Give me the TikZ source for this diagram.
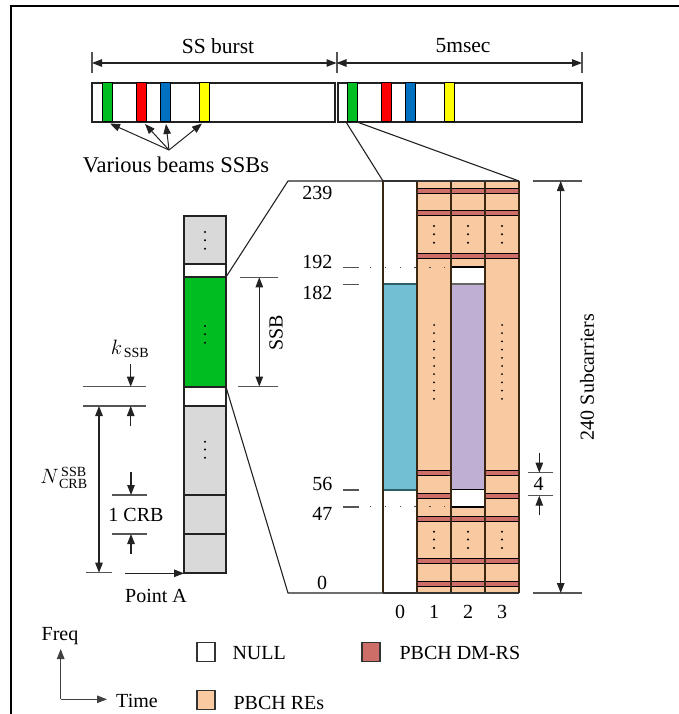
\documentclass[tikz,border=0pt]{standalone}
\usepackage{fontspec}
\setmainfont{Liberation Serif}
\usetikzlibrary{arrows.meta}
\definecolor{ssbgreen}{HTML}{00BE22}
\definecolor{ssbred}{HTML}{FF0000}
\definecolor{ssbblue}{HTML}{0070C0}
\definecolor{ssbyellow}{HTML}{FFFF00}
\definecolor{cellgray}{HTML}{D9D9D9}
\definecolor{peach}{HTML}{F9C9A2}
\definecolor{dmrs}{HTML}{CD6E68}
\definecolor{pss}{HTML}{70BFD2}
\definecolor{pssline}{HTML}{2E5E68}
\definecolor{sss}{HTML}{BFB0D3}
\definecolor{ink}{HTML}{222222}
\definecolor{tickgray}{HTML}{555555}
\begin{document}
\begin{tikzpicture}[x=1pt,y=-1pt,
  font=\fontsize{20}{22}\selectfont,
  line width=1.1pt, draw=ink,
  tri/.style={-{Triangle[length=10pt,width=7.5pt]}},
  dbl/.style={{Triangle[length=10pt,width=7.5pt]}-{Triangle[length=10pt,width=7.5pt]}},
  tickline/.style={draw=tickgray, line width=1.3pt},
  lbl/.style={inner sep=0pt, anchor=center},
  big/.style={font=\fontsize{21.5}{24}\selectfont},
  cell/.style={draw=ink, line width=1.1pt},
  bar/.style={draw=black, line width=1pt},
  stripe/.style={fill=dmrs, draw=black, line width=0.9pt},
  colline/.style={draw=black!70!brown, line width=1.3pt},
  dotv/.style={fill=black, circle, inner sep=0pt, minimum size=2.2pt},
  hdots/.style={draw=black!70, line width=1.3pt, dash pattern=on 1.3pt off 13.5pt},
  legbox/.style={draw=black!80, line width=1.2pt, minimum width=18pt, minimum height=19pt, inner sep=0pt}
]
\useasboundingbox (0,0) rectangle (679,714);
% frame
\coordinate (fbl) at (11,714); \coordinate (ftl) at (11,6); \coordinate (ftr) at (679,6);
\draw[black, line width=2.3pt] (fbl) -- (ftl) -- (ftr);

% ---------- top burst bar ----------
\draw[cell, fill=white] (92,83) rectangle (335,122);
\draw[cell, fill=white] (338,83) rectangle (582,122);
\foreach \a/\b/\c/\n in {102/112/ssbgreen/g1,136/146/ssbred/r1,160/170/ssbblue/b1,199/209/ssbyellow/y1,
  347/357/ssbgreen/g2,381/391/ssbred/r2,405/415/ssbblue/b2,444/454/ssbyellow/y2}{
  \draw[bar, fill=\c] (\a,83) rectangle (\b,122);
  \coordinate (\n) at ({(\a+\b)/2},123);
}
% dimension arrows top
\coordinate (t0a) at (92,52); \coordinate (t0b) at (92,73);
\coordinate (t1a) at (337,52); \coordinate (t1b) at (337,73);
\coordinate (t2a) at (582,52); \coordinate (t2b) at (582,73);
\draw[tickline] (t0a) -- (t0b); \draw[tickline] (t1a) -- (t1b); \draw[tickline] (t2a) -- (t2b);
\coordinate (d0) at (92,63); \coordinate (d1) at (336.5,63); \coordinate (d2) at (582,63);
\draw[dbl] (d0) -- (d1);
\draw[dbl] (d1) -- (d2);
\node[lbl, big] (ssburst) at (218,46) {SS burst};
\node[lbl, big] (fivems) at (463,46) {5msec};

% various beams
\node[lbl, font=\fontsize{22.5}{24}\selectfont] (various) at (176,165) {Various beams SSBs};
\coordinate (vb) at (169,150);
\coordinate (vg) at (110,123.5); \coordinate (vr) at (145,124); \coordinate (vbl) at (166,124); \coordinate (vy) at (202,123.5);
\foreach \t in {vg,vr,vbl,vy}{ \draw[tri, line width=1pt] (vb) -- (\t); }

% ---------- right grid ----------
\def\gt{181} \def\gb{593}
\fill[white] (383,\gt) rectangle (417,\gb);
\fill[peach] (417,\gt) rectangle (519,\gb);
\draw[fill=pss, draw=pssline, line width=1.2pt] (383,284) rectangle (417,490);
\draw[fill=white, draw=black, line width=1.2pt] (451,267) rectangle (485,284);
\draw[fill=sss, draw=black!60, line width=1.1pt] (451,284) rectangle (485,489.5);
\draw[fill=white, draw=black, line width=1.2pt] (451,489.5) rectangle (485,507);
% DM-RS stripes
\foreach \y in {190.5,213,256,519,561,584}{
  \foreach \x in {417,451,485}{ \draw[stripe] (\x,\y-2.5) rectangle (\x+34,\y+2.5); }
}
\foreach \y in {473,495.7}{
  \foreach \x in {417,485}{ \draw[stripe] (\x,\y-2.5) rectangle (\x+34,\y+2.5); }
}
% column lines
\foreach \x in {383,417,451,485,519}{ \draw[colline] (\x,\gt) -- (\x,\gb); }
\coordinate (gtl) at (383,\gt); \coordinate (gtr) at (519,\gt);
\coordinate (gbl) at (383,\gb); \coordinate (gbr) at (519,\gb);
\draw[black!80, line width=1.3pt] (gtl) -- (gtr);
\draw[black!80, line width=1.3pt] (gbl) -- (gbr);
% dots
\foreach \x in {434,468,502}{
  \foreach \y in {226,234.3,242.7,531.7,539.5,548}{ \node[dotv] at (\x,\y) {}; }
}
\foreach \x in {434,502}{
  \foreach \i in {0,...,9}{ \node[dotv, minimum size=2pt] at (\x,325+\i*8.2) {}; }
}
% column numbers
\node[lbl] (c0) at (400,612) {0};
\node[lbl] (c1) at (434,612) {1};
\node[lbl] (c2) at (468,612) {2};
\node[lbl] (c3) at (502,612) {3};

% subcarrier index labels
\node[lbl, anchor=east] (n239) at (333,193) {239};
\node[lbl, anchor=east] (n192) at (333,262) {192};
\node[lbl, anchor=east] (n182) at (333,293) {182};
\node[lbl, anchor=east] (n56) at (333,484) {56};
\node[lbl, anchor=east] (n47) at (333,514) {47};
\node[lbl] (n0) at (322,583) {0};
\foreach \y/\n in {267.3/k192,284.3/k182,490/k56,507/k47}{
  \coordinate (\n a) at (343,\y); \coordinate (\n b) at (359,\y);
  \draw[tickline] (\n a) -- (\n b);
}
\coordinate (dot192a) at (370,267.3); \coordinate (dot192b) at (451,267.3);
\coordinate (dot47a) at (370,506.7); \coordinate (dot47b) at (451,506.7);
\draw[hdots] (dot192a) -- (dot192b);
\draw[hdots] (dot47a) -- (dot47b);

% zoom lines from second green bar
\coordinate (zg1) at (346,122); \coordinate (zg2) at (357,122);
\draw[line width=1.1pt] (zg1) -- (gtl);
\draw[line width=1.1pt] (zg2) -- (gtr);

% ---------- left column ----------
\def\lx{184} \def\rx{226}
\draw[cell, fill=cellgray] (\lx,216) rectangle (\rx,264);
\draw[cell, fill=white] (\lx,264) rectangle (\rx,277);
\draw[cell, fill=ssbgreen] (\lx,277) rectangle (\rx,387);
\draw[cell, fill=white] (\lx,387) rectangle (\rx,406);
\draw[cell, fill=cellgray] (\lx,406) rectangle (\rx,495);
\draw[cell, fill=cellgray] (\lx,495) rectangle (\rx,534);
\draw[cell, fill=cellgray] (\lx,534) rectangle (\rx,573);
\foreach \y in {232,240.3,248.7,326,334.3,342.7,441.7,449.5,457.7}{ \node[dotv] at (205,\y) {}; }

% expansion lines to grid
\coordinate (lgt) at (\rx,277); \coordinate (lgb) at (\rx,387);
\coordinate (e1) at (288,181); \coordinate (e2) at (288,593);
\draw[line width=1.1pt] (lgt) -- (e1) -- (gtl);
\draw[line width=1.1pt] (lgb) -- (e2) -- (gbl);

% SSB dimension
\coordinate (s1a) at (240,277.3); \coordinate (s1b) at (278,277.3);
\coordinate (s2a) at (238,386.5); \coordinate (s2b) at (278,386.5);
\draw[tickline] (s1a) -- (s1b); \draw[tickline] (s2a) -- (s2b);
\coordinate (sa) at (259.3,277.3); \coordinate (sb) at (259.3,386.5);
\draw[dbl] (sa) -- (sb);
\node[lbl, rotate=90] (ssblbl) at (276,333) {SSB};

% k_SSB
\coordinate (k1a) at (83,386.7); \coordinate (k1b) at (146,386.7);
\coordinate (k2a) at (83,406); \coordinate (k2b) at (146,406);
\draw[tickline] (k1a) -- (k1b); \draw[tickline] (k2a) -- (k2b);
\coordinate (ka0) at (130.7,364) ; \coordinate (ka1) at (130.7,386.7);
\coordinate (kb0) at (130.7,426) ; \coordinate (kb1) at (130.7,406);
\draw[tri] (ka0) -- (ka1); \draw[tri] (kb0) -- (kb1);
\node[lbl] (klbl) at (130,349) {$k_{\,\mathrm{SSB}}$};

% N_CRB^SSB
\coordinate (na) at (99,406); \coordinate (nb) at (99,572.7);
\draw[dbl] (na) -- (nb);
\coordinate (nt1) at (86,572.7); \coordinate (nt2) at (112,572.7);
\draw[tickline] (nt1) -- (nt2);
\node[lbl] (nlbl) at (64,478) {$N^{\,\mathrm{SSB}}_{\,\mathrm{CRB}}$};

% 1 CRB
\coordinate (c1a) at (112,495); \coordinate (c1b) at (147,495);
\coordinate (c2a) at (112,534); \coordinate (c2b) at (147,534);
\draw[tickline] (c1a) -- (c1b); \draw[tickline] (c2a) -- (c2b);
\coordinate (ca0) at (131,471.7); \coordinate (ca1) at (131,495);
\coordinate (cb0) at (131,554); \coordinate (cb1) at (131,534);
\draw[tri] (ca0) -- (ca1); \draw[tri] (cb0) -- (cb1);
\node[lbl] (crblbl) at (136,515) {1 CRB};

% Point A
\coordinate (pa0) at (125,573.3); \coordinate (pa1) at (184,573.3);
\draw[tri] (pa0) -- (pa1);
\node[lbl] (pointa) at (156,596) {Point A};

% 240 subcarriers
\coordinate (sc1a) at (533,181); \coordinate (sc1b) at (582,181);
\coordinate (sc2a) at (533,593); \coordinate (sc2b) at (582,593);
\draw[tickline] (sc1a) -- (sc1b); \draw[tickline] (sc2a) -- (sc2b);
\coordinate (sca) at (560.7,181); \coordinate (scb) at (560.7,593);
\draw[dbl] (sca) -- (scb);
\node[lbl, rotate=90] (sclbl) at (587,377) {240 Subcarriers};

% "4" dimension
\coordinate (f1a) at (528,472.7); \coordinate (f1b) at (553,472.7);
\coordinate (f2a) at (528,495.7); \coordinate (f2b) at (553,495.7);
\draw[tickline] (f1a) -- (f1b); \draw[tickline] (f2a) -- (f2b);
\coordinate (fa0) at (539.3,452.7); \coordinate (fa1) at (539.3,472.7);
\coordinate (fb0) at (539.3,515); \coordinate (fb1) at (539.3,495.7);
\draw[tri] (fa0) -- (fa1); \draw[tri] (fb0) -- (fb1);
\node[lbl] (four) at (538.5,484) {4};

% ---------- legend ----------
\node[lbl] (freq) at (60,636) {Freq};
\node[lbl] (time) at (137,701) {Time};
\coordinate (ax0) at (60.7,699.3); \coordinate (axf) at (60.7,649); \coordinate (axt) at (107,699.3);
\draw[tri, draw=black!75] (ax0) -- (axf);
\draw[tri, draw=black!75] (ax0) -- (axt);
\node[legbox, fill=white] (lnull) at (206,652) {};
\node[lbl, anchor=west] (tnull) at (232,653) {NULL};
\node[legbox, fill=dmrs] (ldmrs) at (371,652) {};
\node[lbl, anchor=west] (tdmrs) at (399,653) {PBCH DM-RS};
\node[legbox, fill=peach] (lre) at (206,700) {};
\node[lbl, anchor=west] (tre) at (233,703) {PBCH REs};
\end{tikzpicture}
\end{document}
